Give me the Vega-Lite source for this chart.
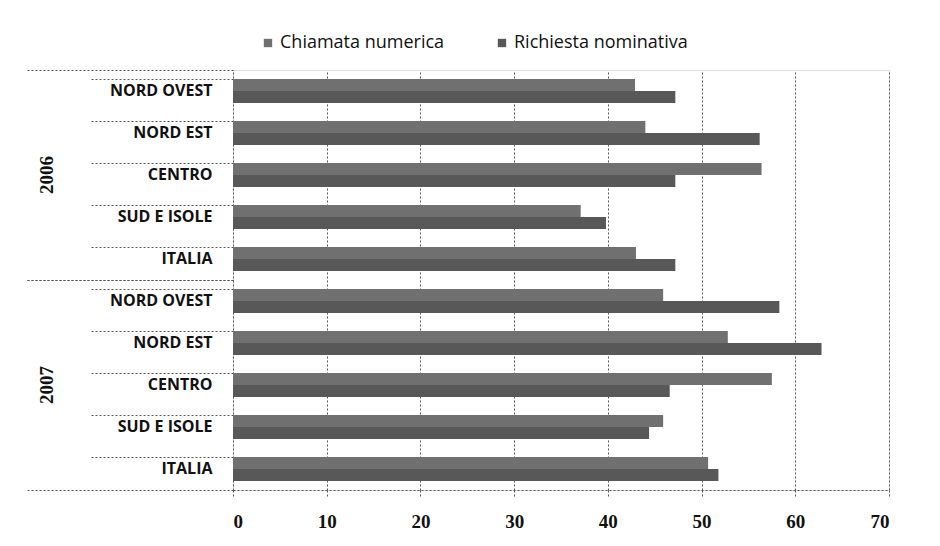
{
  "$schema": "https://vega.github.io/schema/vega-lite/v6.json",
  "width": 656,
  "height": 420,
  "autosize": {"type": "none"},
  "padding": {"left": 233, "top": 70, "right": 51, "bottom": 56},
  "background": "white",
  "data": {"values": [
    {"year": "2006", "region": "NORD OVEST", "series": "Chiamata numerica", "value": 42.9},
    {"year": "2006", "region": "NORD OVEST", "series": "Richiesta nominativa", "value": 47.2},
    {"year": "2006", "region": "NORD EST", "series": "Chiamata numerica", "value": 44.0},
    {"year": "2006", "region": "NORD EST", "series": "Richiesta nominativa", "value": 56.2},
    {"year": "2006", "region": "CENTRO", "series": "Chiamata numerica", "value": 56.4},
    {"year": "2006", "region": "CENTRO", "series": "Richiesta nominativa", "value": 47.2},
    {"year": "2006", "region": "SUD E ISOLE", "series": "Chiamata numerica", "value": 37.1},
    {"year": "2006", "region": "SUD E ISOLE", "series": "Richiesta nominativa", "value": 39.8},
    {"year": "2006", "region": "ITALIA", "series": "Chiamata numerica", "value": 43.0},
    {"year": "2006", "region": "ITALIA", "series": "Richiesta nominativa", "value": 47.2},
    {"year": "2007", "region": "NORD OVEST", "series": "Chiamata numerica", "value": 45.9},
    {"year": "2007", "region": "NORD OVEST", "series": "Richiesta nominativa", "value": 58.3},
    {"year": "2007", "region": "NORD EST", "series": "Chiamata numerica", "value": 52.8},
    {"year": "2007", "region": "NORD EST", "series": "Richiesta nominativa", "value": 62.8},
    {"year": "2007", "region": "CENTRO", "series": "Chiamata numerica", "value": 57.5},
    {"year": "2007", "region": "CENTRO", "series": "Richiesta nominativa", "value": 46.6},
    {"year": "2007", "region": "SUD E ISOLE", "series": "Chiamata numerica", "value": 45.9},
    {"year": "2007", "region": "SUD E ISOLE", "series": "Richiesta nominativa", "value": 44.4},
    {"year": "2007", "region": "ITALIA", "series": "Chiamata numerica", "value": 50.7},
    {"year": "2007", "region": "ITALIA", "series": "Richiesta nominativa", "value": 51.8}
  ]},
  "transform": [{"calculate": "datum.year + ' ' + datum.region", "as": "cat"}],
  "layer": [
    {
      "mark": {"type": "bar"},
      "encoding": {
        "y": {
          "field": "cat", "type": "nominal", "sort": null, "title": null,
          "scale": {"paddingInner": 0.43, "paddingOuter": 0.215},
          "axis": {
            "orient": "left", "bandPosition": 0, "domain": false, "grid": false,
            "ticks": true, "tickSize": 144, "tickDash": [2, 2], "tickColor": "#555",
            "labelExpr": "slice(datum.label, 5)", "labelPadding": -123,
            "labelFont": "Open Sans", "labelFontWeight": "bold", "labelFontSize": 16, "labelColor": "#111"
          }
        },
        "yOffset": {
          "field": "series", "type": "nominal",
          "sort": ["Chiamata numerica", "Richiesta nominativa"],
          "scale": {"paddingInner": 0, "paddingOuter": 0}
        },
        "x": {
          "field": "value", "type": "quantitative", "title": null,
          "scale": {"domain": [0, 70], "nice": false},
          "axis": {
            "values": [0, 10, 20, 30, 40, 50, 60, 70],
            "grid": true, "gridDash": [2, 2], "gridColor": "#555",
            "domain": true, "domainDash": [2, 2], "domainColor": "#555",
            "tickSize": 6, "tickDash": [2, 2], "tickColor": "#555",
            "labelFont": "Liberation Serif", "labelFontWeight": "bold", "labelFontSize": 19,
            "labelPadding": 16, "labelColor": "#111"
          }
        },
        "color": {
          "field": "series", "type": "nominal",
          "scale": {"domain": ["Chiamata numerica", "Richiesta nominativa"], "range": ["#707070", "#585858"]},
          "legend": {
            "title": null, "orient": "none", "direction": "horizontal",
            "legendX": 26, "legendY": -36,
            "symbolType": "square", "symbolSize": 70, "symbolStrokeWidth": 0,
            "labelFont": "Open Sans", "labelFontSize": 18, "labelColor": "#111", "labelLimit": 400,
            "labelOffset": 3, "columnPadding": 48
          }
        }
      }
    },
    {
      "mark": {"type": "rect", "opacity": 0},
      "encoding": {
        "y": {
          "field": "year", "type": "nominal", "title": null,
          "scale": {"paddingInner": 0, "paddingOuter": 0},
          "axis": {
            "orient": "left", "bandPosition": 0, "domain": false,
            "tickSize": 208, "tickDash": [2, 2], "tickColor": "#555",
            "labelAngle": -90, "labelAlign": "center", "labelBaseline": "bottom",
            "labelPadding": -31, "labelFont": "Liberation Serif", "labelFontWeight": "bold",
            "labelFontSize": 19, "labelColor": "#111"
          }
        }
      }
    },
    {
      "mark": {"type": "rect", "opacity": 0},
      "encoding": {
        "y": {
          "field": "year", "type": "nominal", "title": null,
          "scale": {"paddingInner": 0, "paddingOuter": 0},
          "axis": {
            "orient": "left", "bandPosition": 1, "domain": false, "labels": false,
            "tickSize": 208, "tickDash": [2, 2], "tickColor": "#555"
          }
        }
      }
    }
  ],
  "resolve": {"scale": {"y": "independent"}, "axis": {"y": "independent"}}
}
